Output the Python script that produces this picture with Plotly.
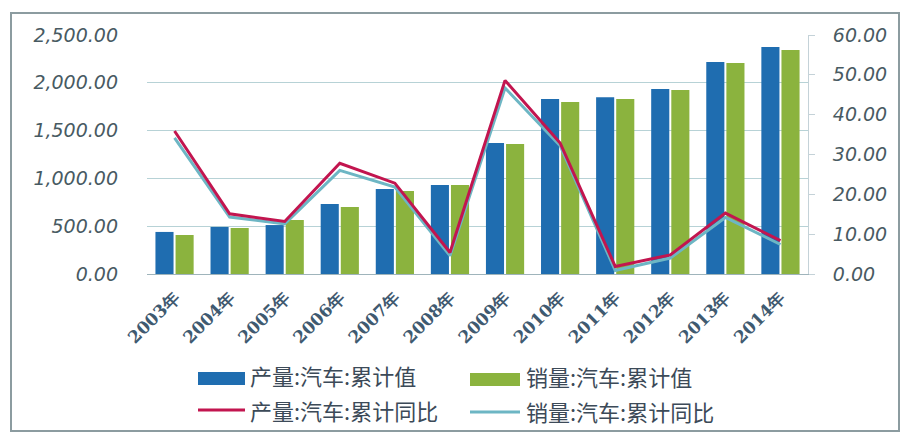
import plotly.graph_objects as go

# Annual China auto output / sales (10k units) and cumulative YoY growth (%)
years = ["2003年", "2004年", "2005年", "2006年", "2007年", "2008年",
         "2009年", "2010年", "2011年", "2012年", "2013年", "2014年"]
prod_total = [440, 492, 512, 732, 889, 931, 1370, 1830, 1850, 1935, 2218, 2375]
sales_total = [408, 481, 565, 700, 868, 931, 1360, 1800, 1830, 1925, 2207, 2343]
prod_yoy = [35.9, 15.1, 13.2, 27.8, 22.8, 5.4, 48.6, 32.9, 1.9, 4.8, 15.3, 8.4]
sales_yoy = [34.2, 14.3, 12.6, 26.0, 21.8, 4.6, 46.7, 32.2, 0.9, 4.0, 14.2, 7.4]

y_ticks_left = [0, 500, 1000, 1500, 2000, 2500]
y_ticks_right = [0, 10, 20, 30, 40, 50, 60]

legend_names = ["产量:汽车:累计值", "销量:汽车:累计值",
                "产量:汽车:累计同比", "销量:汽车:累计同比"]

BLUE = "#1f6db0"
GREEN = "#8bb33e"
RED = "#c2154f"
AQUA = "#6db6c4"

W, H = 902, 434
L, R, T, B = 147, 808, 35, 274  # plot area in pixels


def px(x):
    return (x - L) / (R - L)


def py(y):
    return (B - y) / (B - T)


fig = go.Figure()
fig.add_trace(go.Bar(x=years, y=prod_total, name=legend_names[0],
                     marker=dict(color=BLUE, line=dict(width=0))))
fig.add_trace(go.Bar(x=years, y=sales_total, name=legend_names[1],
                     marker=dict(color=GREEN, line=dict(width=0))))
fig.add_trace(go.Scatter(x=years, y=sales_yoy, name=legend_names[3],
                         mode="lines", yaxis="y2",
                         line=dict(color=AQUA, width=3)))
fig.add_trace(go.Scatter(x=years, y=prod_yoy, name=legend_names[2],
                         mode="lines", yaxis="y2",
                         line=dict(color=RED, width=3)))

tick_font = dict(family="DejaVu Sans", size=19, color="#485a62",
                 style="italic")

fig.update_layout(
    width=W, height=H,
    margin=dict(l=L, r=W - R, t=T, b=H - B, pad=0),
    paper_bgcolor="white", plot_bgcolor="white",
    showlegend=False,
    barmode="group", bargap=0.27, bargroupgap=0.1,
    xaxis=dict(
        showgrid=False, showline=True, linecolor="#9fb4bb", linewidth=1,
        tickangle=-45, ticks="", ticklabelstandoff=6,
        tickfont=dict(family="DejaVu Serif", size=17, color="#3f5a70",
                      weight="bold"),
    ),
    yaxis=dict(
        range=[0, 2500], tickvals=y_ticks_left,
        tickformat=",.2f", showgrid=True, gridcolor="#b7d2d6", gridwidth=1,
        zeroline=False, showline=False, ticks="",
        ticklabelstandoff=28, tickfont=tick_font,
    ),
    yaxis2=dict(
        range=[0, 60], tickvals=y_ticks_right, tickformat=".2f",
        overlaying="y", side="right", showgrid=False, zeroline=False,
        showline=True, linecolor="#c4d2d8", linewidth=1,
        ticks="outside", ticklen=6, tickcolor="#c4d2d8",
        ticklabelstandoff=14, tickfont=tick_font,
    ),
)

shapes = [
    # outer frame
    dict(type="rect", xref="paper", yref="paper",
         x0=px(11), x1=px(899), y0=py(431), y1=py(13),
         line=dict(color="#8c9ca0", width=2), fillcolor="rgba(0,0,0,0)",
         layer="below"),
    # legend swatches
    dict(type="rect", xref="paper", yref="paper",
         x0=px(198), x1=px(245), y0=py(385), y1=py(372),
         line=dict(width=0), fillcolor=BLUE),
    dict(type="rect", xref="paper", yref="paper",
         x0=px(470), x1=px(520), y0=py(386), y1=py(373),
         line=dict(width=0), fillcolor=GREEN),
    dict(type="line", xref="paper", yref="paper",
         x0=px(198), x1=px(245), y0=py(410), y1=py(410),
         line=dict(color=RED, width=3)),
    dict(type="line", xref="paper", yref="paper",
         x0=px(470), x1=px(520), y0=py(412), y1=py(412),
         line=dict(color=AQUA, width=3)),
]

legend_font = dict(family="Noto Sans CJK SC", size=22, color="#3c4a58")
annotations = []
for name, (lx, ly) in zip(legend_names,
                          [(248, 375), (524, 376), (248, 410), (524, 411)]):
    annotations.append(dict(text=name, xref="paper", yref="paper",
                            x=px(lx), y=py(ly), xanchor="left",
                            yanchor="middle", showarrow=False,
                            font=legend_font))

fig.update_layout(shapes=shapes, annotations=annotations)

fig.write_html("out.html")
